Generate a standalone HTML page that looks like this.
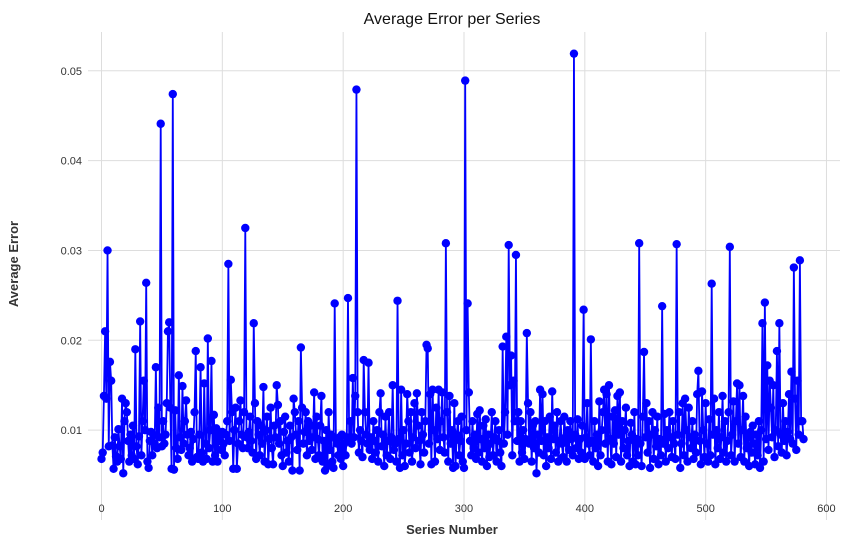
<!DOCTYPE html>
<html><head><meta charset="utf-8"><style>
html,body{margin:0;padding:0;background:#fff;}
svg{display:block;font-family:"Liberation Sans","DejaVu Sans",sans-serif;}
</style></head><body>
<svg id="chart" width="850" height="546" viewBox="0 0 850 546">
<text x="452" y="24" text-anchor="middle" font-size="16" fill="#111">Average Error per Series</text>
<text x="452" y="534" text-anchor="middle" font-size="13" font-weight="bold" fill="#333">Series Number</text>
<text x="18" y="264" text-anchor="middle" font-size="13" font-weight="bold" fill="#333" transform="rotate(-90 18 264)">Average Error</text>
<g id="grid"></g>
<g id="ticks"></g>
<g id="series"></g>
</svg>
<script>
const xTicks = [0,100,200,300,400,500,600];
const yTicks = [0.01,0.02,0.03,0.04,0.05];
const yTickLabels = ["0.01","0.02","0.03","0.04","0.05"];
const errors = [
.0068,.0075,.0138,.0210,.0135,.0300,.0082,.0176,.0155,.0083,.0057,.0092,.0071,.0065,.0101,.0082,.0068,.0135,.0052,.0110,
.0130,.0120,.0088,.0065,.0095,.0072,.0105,.0068,.0190,.0082,.0062,.0093,.0221,.0072,.0110,.0155,.0100,.0264,.0065,.0058,
.0088,.0098,.0072,.0095,.0085,.0170,.0080,.0125,.0092,.0441,.0082,.0110,.0085,.0095,.0130,.0210,.0220,.0125,.0057,.0474,
.0056,.0122,.0080,.0068,.0161,.0092,.0078,.0149,.0085,.0110,.0133,.0095,.0072,.0080,.0098,.0065,.0090,.0120,.0188,.0070,
.0068,.0095,.0170,.0075,.0065,.0152,.0085,.0068,.0202,.0080,.0100,.0177,.0065,.0117,.0072,.0102,.0065,.0088,.0095,.0078,
.0098,.0085,.0072,.0095,.0110,.0285,.0088,.0156,.0120,.0057,.0100,.0125,.0057,.0085,.0110,.0133,.0095,.0080,.0120,.0325,
.0092,.0080,.0098,.0115,.0088,.0075,.0219,.0130,.0068,.0110,.0095,.0072,.0105,.0085,.0148,.0065,.0100,.0115,.0062,.0090,
.0125,.0080,.0062,.0105,.0092,.0150,.0128,.0085,.0110,.0072,.0060,.0098,.0115,.0075,.0088,.0065,.0105,.0092,.0055,.0135,
.0120,.0095,.0078,.0110,.0055,.0192,.0125,.0085,.0098,.0120,.0072,.0110,.0088,.0105,.0078,.0092,.0142,.0068,.0115,.0090,
.0072,.0105,.0138,.0065,.0088,.0055,.0100,.0060,.0120,.0078,.0095,.0065,.0058,.0241,.0090,.0085,.0072,.0092,.0068,.0095,
.0060,.0085,.0072,.0092,.0247,.0088,.0110,.0085,.0158,.0092,.0138,.0479,.0120,.0075,.0100,.0088,.0070,.0178,.0120,.0095,
.0085,.0175,.0078,.0092,.0068,.0110,.0088,.0075,.0100,.0065,.0120,.0141,.0082,.0095,.0060,.0115,.0072,.0088,.0120,.0068,
.0092,.0150,.0078,.0085,.0065,.0244,.0090,.0058,.0145,.0072,.0100,.0060,.0085,.0140,.0110,.0075,.0120,.0065,.0092,.0130,
.0080,.0141,.0105,.0088,.0062,.0120,.0095,.0075,.0110,.0195,.0191,.0085,.0140,.0062,.0145,.0100,.0065,.0125,.0090,.0145,
.0078,.0110,.0142,.0092,.0075,.0308,.0120,.0065,.0138,.0085,.0100,.0058,.0130,.0060,.0095,.0110,.0072,.0088,.0115,.0065,
.0058,.0489,.0100,.0241,.0142,.0088,.0072,.0110,.0080,.0095,.0068,.0118,.0075,.0122,.0090,.0065,.0105,.0080,.0112,.0060,
.0095,.0070,.0085,.0120,.0072,.0092,.0110,.0065,.0088,.0100,.0075,.0060,.0193,.0085,.0120,.0204,.0095,.0306,.0150,.0183,
.0072,.0155,.0110,.0295,.0088,.0120,.0065,.0110,.0075,.0100,.0068,.0090,.0208,.0130,.0085,.0120,.0065,.0105,.0080,.0110,
.0052,.0095,.0075,.0145,.0088,.0140,.0072,.0110,.0060,.0092,.0080,.0115,.0068,.0143,.0090,.0105,.0075,.0120,.0065,.0088,
.0110,.0085,.0070,.0115,.0092,.0065,.0100,.0078,.0110,.0090,.0072,.0519,.0095,.0080,.0112,.0068,.0090,.0075,.0105,.0234,
.0068,.0092,.0130,.0085,.0072,.0201,.0088,.0065,.0110,.0080,.0095,.0060,.0132,.0072,.0100,.0120,.0145,.0085,.0140,.0065,
.0150,.0090,.0062,.0115,.0085,.0122,.0070,.0138,.0095,.0142,.0065,.0110,.0080,.0100,.0125,.0072,.0088,.0060,.0108,.0095,
.0065,.0120,.0062,.0090,.0072,.0308,.0085,.0060,.0115,.0187,.0092,.0130,.0075,.0110,.0058,.0095,.0120,.0068,.0100,.0082,
.0115,.0062,.0090,.0072,.0238,.0085,.0118,.0065,.0100,.0080,.0120,.0092,.0070,.0110,.0085,.0068,.0307,.0095,.0120,.0058,
.0085,.0130,.0072,.0135,.0100,.0065,.0125,.0092,.0080,.0110,.0068,.0095,.0075,.0140,.0166,.0088,.0062,.0143,.0100,.0070,
.0130,.0085,.0065,.0112,.0072,.0263,.0095,.0135,.0062,.0100,.0080,.0120,.0068,.0092,.0138,.0075,.0110,.0065,.0088,.0120,
.0304,.0072,.0095,.0132,.0065,.0110,.0152,.0085,.0150,.0070,.0100,.0138,.0065,.0115,.0080,.0092,.0060,.0098,.0075,.0105,
.0085,.0062,.0095,.0072,.0110,.0058,.0100,.0219,.0065,.0242,.0090,.0172,.0078,.0155,.0125,.0092,.0150,.0070,.0100,.0188,
.0082,.0219,.0095,.0075,.0130,.0088,.0110,.0072,.0098,.0140,.0090,.0165,.0085,.0281,.0135,.0078,.0155,.0095,.0289,.0110,
.0110,.0090
];

const NS = "http://www.w3.org/2000/svg";
const plot = {left: 88, right: 840, top: 32, bottom: 520};
function xScale(v){ return 101.5 + v * 1.2083; }
function yScale(v){ return 520 - v * 8985; }

const grid = document.getElementById('grid');
const ticks = document.getElementById('ticks');
xTicks.forEach(function(t){
  const l = document.createElementNS(NS,'line');
  l.setAttribute('x1', xScale(t)); l.setAttribute('x2', xScale(t));
  l.setAttribute('y1', plot.top); l.setAttribute('y2', plot.bottom);
  l.setAttribute('stroke', '#dddddd'); l.setAttribute('stroke-width', '1');
  
  
  grid.appendChild(l);
  const tx = document.createElementNS(NS,'text');
  tx.setAttribute('x', xScale(t)); tx.setAttribute('y', 512);
  tx.setAttribute('text-anchor','middle'); tx.setAttribute('font-size','11'); tx.setAttribute('fill','#333');
  tx.textContent = String(t);
  
  
  ticks.appendChild(tx);
});
yTicks.forEach(function(t, i){
  const l = document.createElementNS(NS,'line');
  l.setAttribute('x1', plot.left); l.setAttribute('x2', plot.right);
  l.setAttribute('y1', yScale(t)); l.setAttribute('y2', yScale(t));
  l.setAttribute('stroke', '#dddddd'); l.setAttribute('stroke-width', '1');
  
  
  grid.appendChild(l);
  const tx = document.createElementNS(NS,'text');
  tx.setAttribute('x', 82); tx.setAttribute('y', yScale(t) + 4);
  tx.setAttribute('text-anchor','end'); tx.setAttribute('font-size','11'); tx.setAttribute('fill','#333');
  tx.textContent = yTickLabels[i];
  
  
  ticks.appendChild(tx);
});

const series = document.getElementById('series');
const path = document.createElementNS(NS,'polyline');
path.setAttribute('points', errors.map(function(v,i){ return xScale(i).toFixed(2)+','+yScale(v).toFixed(2); }).join(' '));
path.setAttribute('fill','none'); path.setAttribute('stroke','#0000ff'); path.setAttribute('stroke-width','1.8');
path.setAttribute('stroke-linejoin','round');


series.appendChild(path);
errors.forEach(function(v,i){
  const c = document.createElementNS(NS,'circle');
  c.setAttribute('cx', xScale(i).toFixed(2)); c.setAttribute('cy', yScale(v).toFixed(2));
  c.setAttribute('r', '4.2'); c.setAttribute('fill', '#0000ff');
  
  
  series.appendChild(c);
});
</script>
</body></html>
